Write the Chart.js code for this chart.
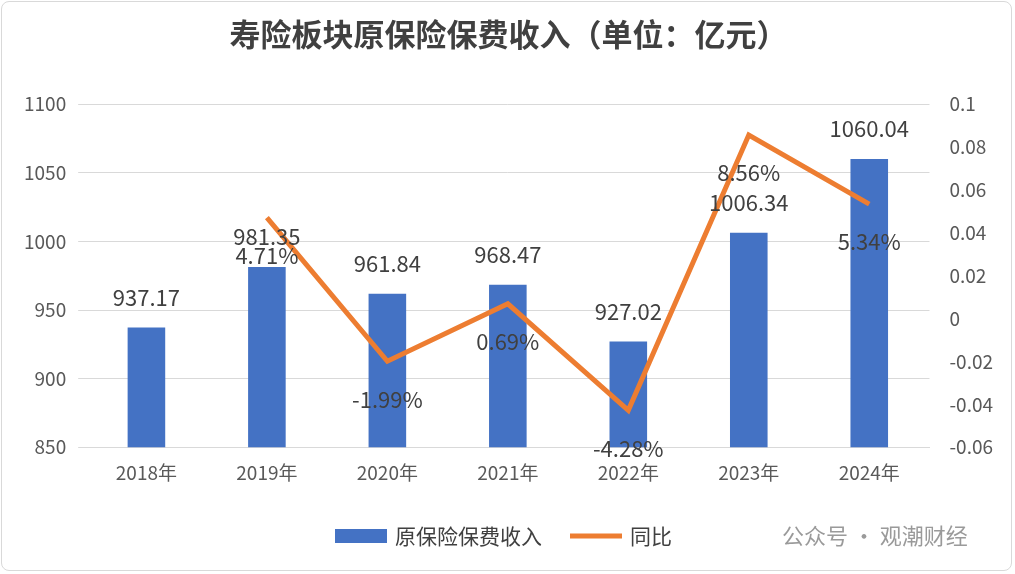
<!DOCTYPE html>
<html><head><meta charset="utf-8">
<script src="https://cdn.jsdelivr.net/npm/chart.js@4"></script>
<style>
html,body{margin:0;padding:0;background:#fff;}
#wrap{position:absolute;left:1px;top:1px;width:1011px;height:570px;border:1px solid #d9d9d9;border-radius:8px;box-sizing:border-box;}
canvas{position:absolute;left:0;top:0;}
</style></head><body>
<div id="wrap"><canvas id="c" width="1011" height="570"></canvas></div>
<script>
const categories=['2018年','2019年','2020年','2021年','2022年','2023年','2024年'];
const premium=[937.17,981.35,961.84,968.47,927.02,1006.34,1060.04];
const yoy=[null,0.0471,-0.0199,0.0069,-0.0428,0.0856,0.0534];
const yoyLabels=[null,'4.71%','-1.99%','0.69%','-4.28%','8.56%','5.34%'];
const font='"Noto Sans CJK SC","Noto Sans",sans-serif';
const labelsPlugin={id:'lbl',afterDatasetsDraw(ch){
 const ctx=ch.ctx;ctx.save();ctx.font='22px '+font;ctx.fillStyle='#404040';ctx.textAlign='center';ctx.textBaseline='middle';
 ch.getDatasetMeta(0).data.forEach((b,i)=>ctx.fillText(premium[i].toFixed(2),b.x,b.y-30));
 ch.getDatasetMeta(1).data.forEach((p,i)=>{if(yoyLabels[i])ctx.fillText(yoyLabels[i],p.x,p.y+38);});
 const y=534;ctx.font='21px '+font;ctx.textAlign='left';
 ctx.fillStyle='#4472C4';ctx.fillRect(333,527,52,14);
 ctx.fillStyle='#404040';ctx.fillText('原保险保费收入',393,y);
 ctx.strokeStyle='#ED7D31';ctx.lineWidth=5;ctx.beginPath();ctx.moveTo(568,y);ctx.lineTo(620,y);ctx.stroke();
 ctx.fillText('同比',628,y);
 ctx.fillStyle='#9a9a9a';ctx.font='22px '+font;ctx.fillText('公众号 · 观潮财经',780,y);
 ctx.restore();}};
new Chart(document.getElementById('c'),{
 data:{labels:categories,datasets:[
  {type:'bar',label:'原保险保费收入',data:premium,backgroundColor:'#4472C4',yAxisID:'y',barPercentage:0.6,categoryPercentage:0.52,order:2},
  {type:'line',label:'同比',data:yoy,borderColor:'#ED7D31',borderWidth:5,pointRadius:0,yAxisID:'y1',order:1,spanGaps:true}
 ]},
 plugins:[labelsPlugin],
 options:{responsive:false,animation:false,
  layout:{padding:{left:10,right:8,top:0,bottom:82}},
  plugins:{legend:{display:false},tooltip:{enabled:false},
   title:{display:true,text:'寿险板块原保险保费收入（单位：亿元）',color:'#404040',font:{family:font,size:31,weight:'bold'},padding:{top:14,bottom:51}}},
  scales:{
   x:{grid:{display:false},border:{color:'#d9d9d9'},ticks:{color:'#595959',font:{family:font,size:19},padding:6}},
   y:{min:850,max:1100,ticks:{stepSize:50,color:'#595959',font:{family:font,size:19},padding:12,callback:v=>String(v)},grid:{color:'#d9d9d9'},border:{display:false}},
   y1:{position:'right',min:-0.06,max:0.1,ticks:{stepSize:0.02,color:'#595959',font:{family:font,size:19},padding:12,callback:v=>{const r=Math.round(v*100)/100;return r===0?'0':String(r);}},grid:{display:false},border:{display:false}}
  }}
});
</script></body></html>
